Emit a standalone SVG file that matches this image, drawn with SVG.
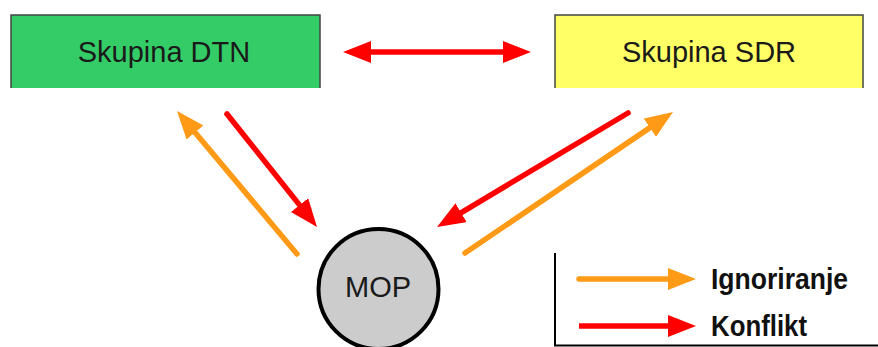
<svg xmlns="http://www.w3.org/2000/svg" width="878" height="347" viewBox="0 0 878 347">
  <defs>
    <marker id="headR" markerUnits="userSpaceOnUse" markerWidth="28" markerHeight="22" refX="10" refY="11" orient="auto-start-reverse">
      <path d="M0,0 L28,11 L0,22 z" fill="#ff0000"/>
    </marker>
    <marker id="headO" markerUnits="userSpaceOnUse" markerWidth="28" markerHeight="22" refX="10" refY="11" orient="auto-start-reverse">
      <path d="M0,0 L28,11 L0,22 z" fill="#ff9a16"/>
    </marker>
  </defs>
  <style>
    .box-label { font-family: "Liberation Sans", Arial, sans-serif; font-size: 29px; fill: #1a1a1a; text-anchor: middle; }
    .legend-label { font-family: "Liberation Sans", Arial, sans-serif; font-size: 29px; font-weight: bold; fill: #111; }
    .edge { stroke: #444; stroke-width: 1.5; fill: none; }
    .conflict { stroke: #ff0000; stroke-width: 5.5; fill: none; marker-end: url(#headR); }
    .ignore { stroke: #ff9a16; stroke-width: 5.5; fill: none; marker-end: url(#headO); stroke-linecap: round; }
  </style>
  <rect width="878" height="347" fill="#ffffff"/>

  <g id="dtn">
    <rect x="11" y="15" width="309" height="73" fill="#33cc66"/>
    <path class="edge" d="M11,88 L11,15 L320,15 L320,88"/>
    <text class="box-label" x="164" y="62">Skupina DTN</text>
  </g>

  <g id="sdr">
    <rect x="555" y="15" width="308" height="73" fill="#ffff66"/>
    <path class="edge" d="M555,88 L555,15 L863,15 L863,88"/>
    <text class="box-label" x="709" y="62">Skupina SDR</text>
  </g>

  <g id="mop">
    <circle cx="378.5" cy="289" r="60" fill="#cccccc" stroke="#000" stroke-width="4"/>
    <text class="box-label" x="378" y="297">MOP</text>
  </g>

  <g id="connectors">
    <line x1="361" y1="52" x2="513" y2="52" stroke="#ff0000" stroke-width="5.5" marker-start="url(#headR)" marker-end="url(#headR)"/>
    <line class="ignore" x1="297" y1="254" x2="188.6" y2="124.8"/>
    <line class="conflict" x1="227" y1="114" x2="305.8" y2="212.9" stroke-linecap="round"/>
    <line class="conflict" x1="628" y1="113" x2="452.5" y2="217.8" stroke-linecap="round"/>
    <line class="ignore" x1="465" y1="253" x2="658.1" y2="122.1"/>
  </g>

  <g id="legend">
    <path d="M555,253 L555,345.5 L878,345.5" stroke="#000" stroke-width="2" fill="none"/>
    <line class="ignore" x1="579" y1="279" x2="678" y2="279" stroke-linecap="butt"/>
    <line class="conflict" x1="579" y1="326" x2="678" y2="326"/>
    <text class="legend-label" x="711" y="289" textLength="137" lengthAdjust="spacingAndGlyphs">Ignoriranje</text>
    <text class="legend-label" x="711" y="336" textLength="96" lengthAdjust="spacingAndGlyphs">Konflikt</text>
  </g>
</svg>
